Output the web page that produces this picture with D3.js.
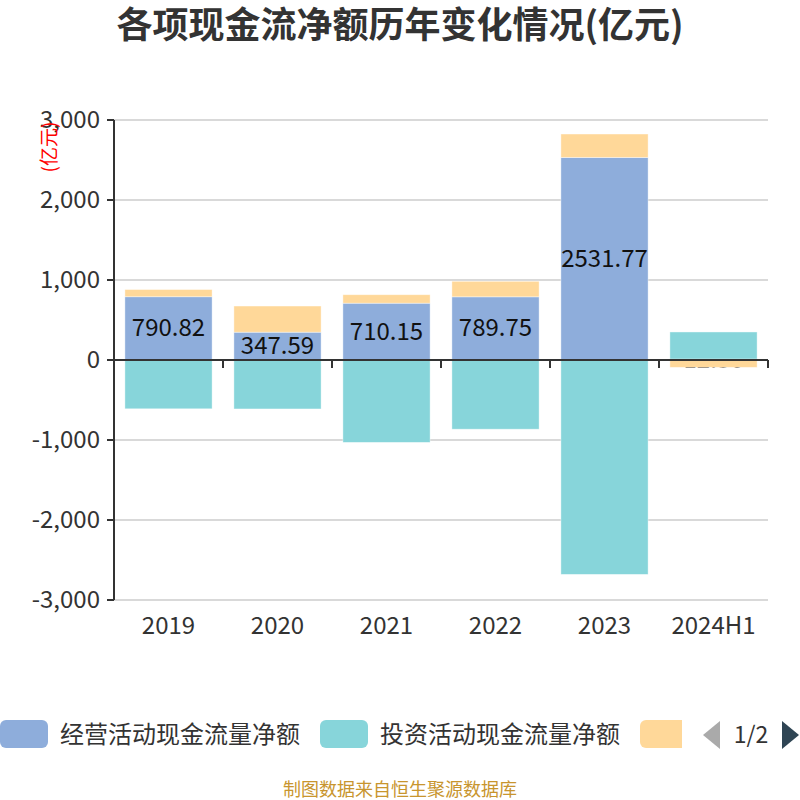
<!DOCTYPE html>
<html><head><meta charset="utf-8">
<script src="https://cdn.jsdelivr.net/npm/d3@7"></script>
<style>body{margin:0;background:#fff}svg{display:block}</style>
</head><body>
<svg id="c" width="800" height="800"></svg>
<script>
const categories = ["2019","2020","2021","2022","2023","2024H1"];
const seriesNames = ["经营活动现金流量净额","投资活动现金流量净额","筹资活动现金流量净额"];
const operating = [790.82, 347.59, 710.15, 789.75, 2531.77, 12.36];
const investing = [-610, -612, -1030, -865, -2680, 338];
const financing = [90, 327, 106, 194, 293, -92];
const yTicks = [-3000,-2000,-1000,0,1000,2000,3000];
const colors = ["#8eaddb","#87d5da","#ffd899"];

const svg = d3.select("#c");
const font = "'Noto Sans CJK SC','Noto Sans',sans-serif";
const L=114, R=768, T=120, B=600;
const x = d3.scaleBand().domain(categories).range([L,R]).paddingInner(0.2).paddingOuter(0.1);
const xb = d3.scaleBand().domain(categories).range([L,R]);
const y = d3.scaleLinear().domain([-3000,3000]).range([B,T]);

svg.append("text").attr("x",400).attr("y",38).attr("text-anchor","middle")
  .attr("font-family",font).attr("font-weight","bold").attr("font-size",36).attr("fill","#333")
  .text("各项现金流净额历年变化情况(亿元)");

// grid
svg.append("g").selectAll("line").data(yTicks.filter(d=>d!==0)).join("line")
  .attr("x1",L).attr("x2",R).attr("y1",d=>y(d)).attr("y2",d=>y(d))
  .attr("stroke","#ccc").attr("stroke-width",1.5);

// stacks
const all = [operating, investing, financing];
const rects = [];
categories.forEach((c,i)=>{
  let pos=0, neg=0;
  all.forEach((s,k)=>{
    const v=s[i];
    let y0,y1;
    if(v>=0){y0=pos;y1=pos+v;pos=y1;}else{y0=neg;y1=neg+v;neg=y1;}
    rects.push({c,k,v,y0,y1});
  });
});
const gBars = svg.append("g");
function drawSeries(k){
  gBars.selectAll(null).data(rects.filter(r=>r.k===k)).join("rect")
    .attr("x",d=>x(d.c)).attr("width",x.bandwidth())
    .attr("y",d=>y(Math.max(d.y0,d.y1))).attr("height",d=>Math.abs(y(d.y0)-y(d.y1)))
    .attr("fill",colors[k]).attr("stroke","#fff").attr("stroke-opacity",0.5).attr("stroke-width",0.8);
}
drawSeries(0);
gBars.selectAll(null).data(rects.filter(r=>r.k===0)).join("text")
  .attr("x",d=>x(d.c)+x.bandwidth()/2).attr("y",d=>y((d.y0+d.y1)/2)+8)
  .attr("text-anchor","middle").attr("font-family",font).attr("font-size",24).attr("fill","#111")
  .text(d=>d.v.toFixed(2));
drawSeries(1);
drawSeries(2);

// y axis
const gy = svg.append("g");
gy.append("line").attr("x1",L).attr("x2",L).attr("y1",T).attr("y2",B).attr("stroke","#333").attr("stroke-width",2);
gy.selectAll(null).data(yTicks).join("line").attr("x1",L-7).attr("x2",L).attr("y1",d=>y(d)).attr("y2",d=>y(d)).attr("stroke","#333").attr("stroke-width",2);
gy.selectAll(null).data(yTicks).join("text").attr("x",L-14).attr("y",d=>y(d)+8)
  .attr("text-anchor","end").attr("font-family",font).attr("font-size",24).attr("fill","#333")
  .text(d=>d3.format(",")(d).replace("−","-"));
svg.append("text").attr("transform","translate(56,147) rotate(-90)").attr("text-anchor","middle")
  .attr("font-family",font).attr("font-size",19).attr("fill","red").text("(亿元)");

// x axis at zero
const gx = svg.append("g");
gx.append("line").attr("x1",L).attr("x2",R).attr("y1",y(0)).attr("y2",y(0)).attr("stroke","#333").attr("stroke-width",2);
const bounds = categories.map(c=>xb(c)+xb.bandwidth());
gx.selectAll(null).data(bounds).join("line").attr("x1",d=>d).attr("x2",d=>d).attr("y1",y(0)).attr("y2",y(0)+8).attr("stroke","#333").attr("stroke-width",2);
gx.selectAll(null).data(categories).join("text").attr("x",d=>xb(d)+xb.bandwidth()/2).attr("y",634)
  .attr("text-anchor","middle").attr("font-family",font).attr("font-size",24).attr("fill","#333").text(d=>d);

// legend
const lg = svg.append("g");
svg.append("clipPath").attr("id","lc").append("rect").attr("x",0).attr("y",700).attr("width",682).attr("height",60);
const lgi = lg.append("g").attr("clip-path","url(#lc)");
const lx = [0,320,640];
seriesNames.forEach((n,k)=>{
  lgi.append("rect").attr("x",lx[k]).attr("y",720).attr("width",48).attr("height",28).attr("rx",6).attr("fill",colors[k]);
  lgi.append("text").attr("x",lx[k]+60).attr("y",743).attr("font-family",font).attr("font-size",24).attr("fill","#333").text(n);
});
lg.append("path").attr("d","M720,721 L703,735 L720,749 Z").attr("fill","#aaa");
lg.append("text").attr("x",751).attr("y",743).attr("text-anchor","middle").attr("font-family",font).attr("font-size",23).attr("fill","#333").text("1/2");
lg.append("path").attr("d","M782,721 L799,735 L782,749 Z").attr("fill","#2f4554");

svg.append("text").attr("x",400).attr("y",796).attr("text-anchor","middle").attr("font-family",font)
  .attr("font-size",18).attr("fill","#c8952e").text("制图数据来自恒生聚源数据库");
</script>
</body></html>
